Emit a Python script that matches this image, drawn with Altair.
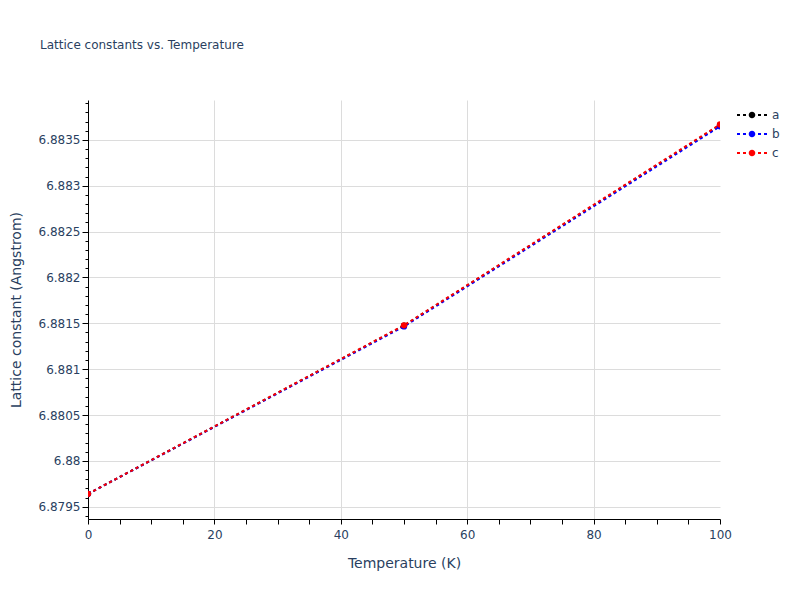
import pandas as pd
import altair as alt

# values
temps = [0, 50, 100]
lat_a = [6.87964, 6.881474, 6.883660]
lat_b = [6.87964, 6.881466, 6.883648]
lat_c = [6.87964, 6.881478, 6.883668]
series = ["a", "b", "c"]
colors = ["black", "blue", "red"]

rows = []
for name, vals in zip(series, [lat_a, lat_b, lat_c]):
    for t, v in zip(temps, vals):
        rows.append({"Temperature": t, "Lattice": v, "axis": name})
df = pd.DataFrame(rows)

FONT = "DejaVu Sans"
TXT = "#2a3f5f"
GRID = "#dcdcdc"

y_ticks = [round(6.8794 + i * 0.0001, 4) for i in range(46)]
x_ticks = list(range(0, 101, 5))
y_major = "round(datum.value * 10000) % 5 == 0"

# legend glyph: dotted line with a dot in the middle (wider than the symbol box)
legend_path = (
    "M-1.5,-0.1H-1.2V0.1H-1.5Z M-0.9,-0.1H-0.6V0.1H-0.9Z "
    "M0.6,-0.1H0.9V0.1H0.6Z M1.2,-0.1H1.5V0.1H1.2Z "
    "M-0.33,0A0.33,0.33 0 1,1 0.33,0A0.33,0.33 0 1,1 -0.33,0Z"
)

x_enc = alt.X(
    "Temperature:Q",
    scale=alt.Scale(domain=[0, 100], nice=False),
    axis=alt.Axis(
        title="Temperature (K)", values=x_ticks,
        labelExpr="datum.value % 20 == 0 ? datum.label : ''",
        labelFlush=False, labelOverlap=False, labelPadding=5,
        tickSize=5, tickColor="black", domainColor="black",
        gridColor={"condition": {"test": "datum.value % 20 == 0 && datum.value > 0 && datum.value < 100",
                                 "value": GRID}, "value": "transparent"},
        titleY=44, titleBaseline="middle", titleFontSize=14,
    ),
)
y_enc = alt.Y(
    "Lattice:Q",
    scale=alt.Scale(domain=[6.879366, 6.883935], nice=False, zero=False),
    axis=alt.Axis(
        title="Lattice constant (Angstrom)", values=y_ticks,
        labelExpr=y_major + " ? format(datum.value, '.5~f') : ''",
        labelOverlap=False, labelPadding=2, tickColor="black", domainColor="black",
        tickSize={"condition": {"test": y_major, "value": 6}, "value": 3},
        gridColor={"condition": {"test": y_major, "value": GRID}, "value": "transparent"},
        titleX=-72, titleY=209.5, titleAlign="center", titleBaseline="middle",
        titleFontSize=14,
    ),
)
color_scale = alt.Scale(domain=series, range=colors)
legend = alt.Legend(
    title=None, orient="none", legendX=654, legendY=5,
    symbolType=legend_path, symbolSize=400, symbolStrokeWidth=0,
    labelFont=FONT, labelFontSize=12, labelColor=TXT, labelOffset=10,
    rowPadding=3, padding=0,
)

lines = alt.Chart(df).mark_line(strokeWidth=2, strokeDash=[3, 3], clip=True).encode(
    x=x_enc, y=y_enc,
    color=alt.Color("axis:N", scale=color_scale, legend=legend),
)
points = alt.Chart(df).mark_point(filled=True, size=40, opacity=1, clip=True).encode(
    x=x_enc, y=y_enc,
    color=alt.Color("axis:N", scale=color_scale, legend=legend),
)

chart = alt.layer(lines, points).properties(
    width=632, height=419,
    title=alt.Title("Lattice constants vs. Temperature", anchor="start", frame="group",
                    dx=-48, offset=45, fontSize=12, font=FONT, color=TXT,
                    fontWeight="normal"),
    autosize=alt.AutoSizeParams(type="none"),
    padding={"left": 80, "top": 92, "right": 70, "bottom": 70},
    background="white",
).configure_axis(
    labelFont=FONT, labelFontSize=12, labelColor=TXT,
    titleFont=FONT, titleColor=TXT, titleFontWeight="normal",
).configure_view(strokeWidth=0)

chart.save("out.html", embed_options={"renderer": "svg", "actions": False})
